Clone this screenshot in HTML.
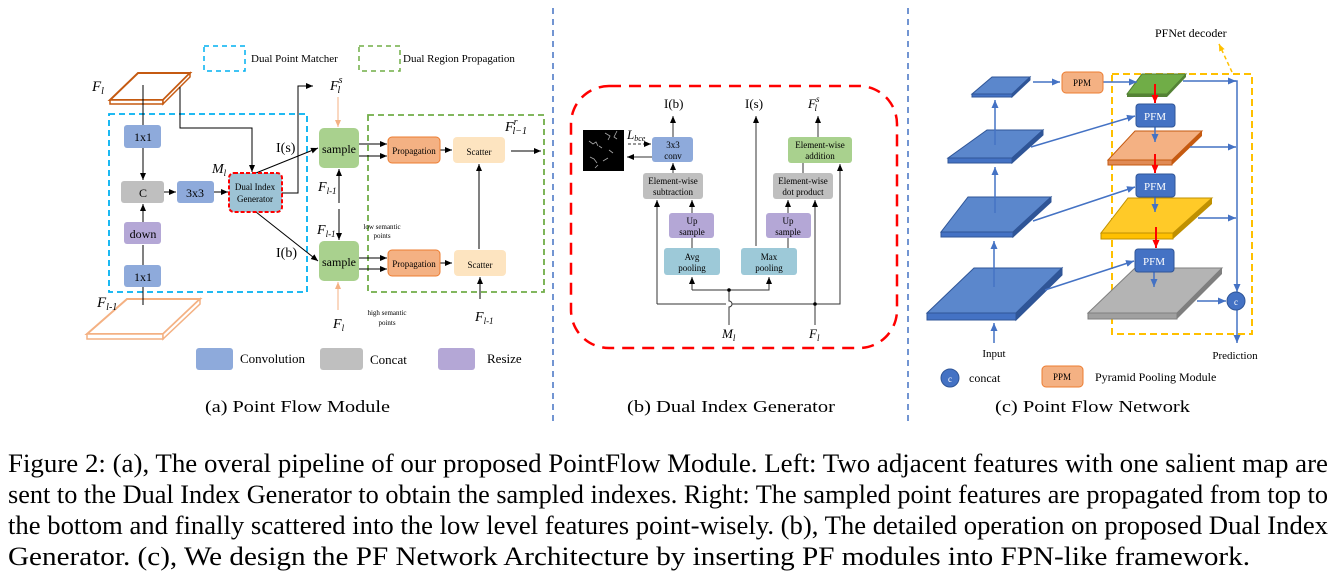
<!DOCTYPE html>
<html><head><meta charset="utf-8"><style>
html,body{margin:0;padding:0;background:#fff;}
svg{display:block;font-family:"Liberation Serif",serif;}
</style></head><body>
<svg width="1334" height="579" viewBox="0 0 1334 579" xmlns="http://www.w3.org/2000/svg">
<defs>
<marker id="a" markerWidth="8" markerHeight="8" refX="7" refY="4" orient="auto" markerUnits="userSpaceOnUse"><path d="M0,1 L7,4 L0,7z" fill="#000"/></marker>
<marker id="ab" markerWidth="9" markerHeight="9" refX="8" refY="4.5" orient="auto" markerUnits="userSpaceOnUse"><path d="M0,1 L8,4.5 L0,8z" fill="#4472c4"/></marker>
<marker id="ar" markerWidth="9" markerHeight="9" refX="8" refY="4.5" orient="auto" markerUnits="userSpaceOnUse"><path d="M0,1 L8,4.5 L0,8z" fill="#ff0000"/></marker>
<marker id="ao" markerWidth="8" markerHeight="8" refX="7" refY="4" orient="auto" markerUnits="userSpaceOnUse"><path d="M0,1 L7,4 L0,7z" fill="#f4b183"/></marker>
<marker id="ay" markerWidth="8" markerHeight="8" refX="7" refY="4" orient="auto" markerUnits="userSpaceOnUse"><path d="M0,1 L7,4 L0,7z" fill="#ffc000"/></marker>
</defs>

<line x1="553" y1="8" x2="553" y2="425" stroke="#4472c4" stroke-width="1.5" stroke-dasharray="6,5"/>
<line x1="908" y1="8" x2="908" y2="425" stroke="#4472c4" stroke-width="1.5" stroke-dasharray="6,5"/>

<!-- ===== Panel (a) ===== -->
<g font-size="11">
<rect x="204" y="46" width="41" height="25" fill="none" stroke="#00b0f0" stroke-width="1.5" stroke-dasharray="5,4"/>
<text x="251" y="62">Dual Point Matcher</text>
<rect x="359" y="46" width="41" height="25" fill="none" stroke="#70ad47" stroke-width="1.5" stroke-dasharray="5,4"/>
<text x="403" y="62">Dual Region Propagation</text>
</g>
<polygon points="138,73 190,73 163,100 110,100" fill="#fff" stroke="#c55a11" stroke-width="2"/>
<polygon points="110,100 163,100 163,104 110,104" fill="#fff" stroke="#c55a11" stroke-width="1.5"/>
<polygon points="163,100 190,73 190,77 163,104" fill="#fff" stroke="#c55a11" stroke-width="1.5"/>
<text x="92" y="91" font-size="15" font-style="italic">F<tspan font-size="10" dy="3">l</tspan></text>
<polygon points="127,299 200,299 163,334 87,334" fill="#fff" stroke="#f4b183" stroke-width="2"/>
<polygon points="87,334 163,334 163,339 87,339" fill="#fff" stroke="#f4b183" stroke-width="1.5"/>
<polygon points="163,334 200,299 200,304 163,339" fill="#fff" stroke="#f4b183" stroke-width="1.5"/>
<text x="97" y="307" font-size="15" font-style="italic">F<tspan font-size="10" dy="3">l-1</tspan></text>

<rect x="109" y="114" width="198" height="178" fill="none" stroke="#00b0f0" stroke-width="1.8" stroke-dasharray="6,4"/>
<rect x="368" y="115" width="176" height="177" fill="none" stroke="#70ad47" stroke-width="1.8" stroke-dasharray="6,4"/>

<g stroke="#000" stroke-width="1" fill="none">
<line x1="143" y1="85" x2="143" y2="125"/>
<line x1="143" y1="148" x2="143" y2="180" marker-end="url(#a)"/>
<line x1="143" y1="222" x2="143" y2="204" marker-end="url(#a)"/>
<line x1="143" y1="265" x2="143" y2="245"/>
<line x1="143" y1="287" x2="143" y2="305"/>
<line x1="164" y1="192" x2="176" y2="192" marker-end="url(#a)"/>
<line x1="214" y1="192" x2="228" y2="192" marker-end="url(#a)"/>
<polyline points="180,87 180,128 252,128 252,172" marker-end="url(#a)"/>
<polyline points="282,193 298,193 298,86 313,86" marker-end="url(#a)"/>
<line x1="256" y1="173" x2="318" y2="148" marker-end="url(#a)"/>
<line x1="256" y1="212" x2="318" y2="261" marker-end="url(#a)"/>
<line x1="339" y1="203" x2="339" y2="169" marker-end="url(#a)"/>
<line x1="339" y1="209" x2="339" y2="240" marker-end="url(#a)"/>
<line x1="359" y1="144" x2="387" y2="144" marker-end="url(#a)"/>
<line x1="359" y1="156" x2="387" y2="156" marker-end="url(#a)"/>
<line x1="440" y1="150" x2="452" y2="150" marker-end="url(#a)"/>
<line x1="359" y1="258" x2="387" y2="258" marker-end="url(#a)"/>
<line x1="359" y1="269" x2="387" y2="269" marker-end="url(#a)"/>
<line x1="440" y1="263" x2="452" y2="263" marker-end="url(#a)"/>
<line x1="479" y1="249" x2="479" y2="164" marker-end="url(#a)"/>
<line x1="480" y1="299" x2="480" y2="277" marker-end="url(#a)"/>
<line x1="511" y1="151" x2="541" y2="151" marker-end="url(#a)"/>
</g>
<line x1="338" y1="97" x2="338" y2="127" stroke="#f4b183" stroke-width="1" marker-end="url(#ao)"/>
<line x1="338" y1="310" x2="338" y2="282" stroke="#f4b183" stroke-width="1" marker-end="url(#ao)"/>

<g font-size="12" text-anchor="middle">
<rect x="124" y="125" width="37" height="23" rx="3" fill="#8eaadb"/><text x="143" y="141">1x1</text>
<rect x="121" y="181" width="43" height="22" rx="3" fill="#bfbfbf"/><text x="143" y="197">C</text>
<rect x="177" y="181" width="37" height="22" rx="3" fill="#8eaadb"/><text x="195" y="197">3x3</text>
<rect x="124" y="222" width="37" height="22" rx="3" fill="#b4a7d6"/><text x="143" y="238">down</text>
<rect x="124" y="265" width="37" height="22" rx="3" fill="#8eaadb"/><text x="143" y="281">1x1</text>
<rect x="229" y="173" width="53" height="39" rx="5" fill="#9dc3d5" stroke="#ff0000" stroke-width="2" stroke-dasharray="4,2"/>
<text x="255" y="190" font-size="9">Dual Index</text><text x="255" y="202" font-size="9">Generator</text>
<rect x="319" y="128" width="40" height="40" rx="5" fill="#a9d18e"/><text x="339" y="153">sample</text>
<rect x="319" y="241" width="40" height="40" rx="5" fill="#a9d18e"/><text x="339" y="266">sample</text>
<rect x="388" y="137" width="52" height="26" rx="4" fill="#f4b183" stroke="#ed7d31"/><text x="414" y="154" font-size="9">Propagation</text>
<rect x="453" y="137" width="52" height="26" rx="4" fill="#fde4c0"/><text x="479" y="155" font-size="9">Scatter</text>
<rect x="388" y="250" width="52" height="26" rx="4" fill="#f4b183" stroke="#ed7d31"/><text x="414" y="267" font-size="9">Propagation</text>
<rect x="454" y="250" width="52" height="26" rx="4" fill="#fde4c0"/><text x="480" y="268" font-size="9">Scatter</text>
<text x="382" y="229" font-size="7">low semantic</text><text x="382" y="238" font-size="7">points</text>
<text x="387" y="315" font-size="7">high semantic</text><text x="387" y="325" font-size="7">points</text>
</g>
<g font-size="14">
<text x="212" y="173" font-style="italic">M<tspan font-size="9" dy="3">l</tspan></text>
<text x="276" y="152">I(s)</text>
<text x="276" y="257">I(b)</text>
<text x="330" y="90" font-style="italic">F<tspan font-size="10" dy="-7">s</tspan><tspan font-size="10" dx="-5" dy="10">l</tspan></text>
<text x="505" y="131" font-style="italic">F<tspan font-size="10" dy="-6">r</tspan><tspan font-size="10" dx="-5" dy="9">l−1</tspan></text>
<text x="318" y="191" font-style="italic">F<tspan font-size="9" dy="3">l-1</tspan></text>
<text x="317" y="234" font-style="italic">F<tspan font-size="9" dy="3">l-1</tspan></text>
<text x="333" y="328" font-style="italic">F<tspan font-size="9" dy="3">l</tspan></text>
<text x="475" y="321" font-style="italic">F<tspan font-size="9" dy="3">l-1</tspan></text>
</g>
<g font-size="13">
<rect x="196" y="348" width="37" height="22" rx="3" fill="#8eaadb"/><text x="240" y="363">Convolution</text>
<rect x="320" y="348" width="43" height="22" rx="3" fill="#bfbfbf"/><text x="370" y="364">Concat</text>
<rect x="438" y="348" width="37" height="22" rx="3" fill="#b4a7d6"/><text x="487" y="363">Resize</text>
</g>
<text x="205" y="412" font-size="17" textLength="185" lengthAdjust="spacingAndGlyphs">(a) Point Flow Module</text>

<!-- ===== Panel (b) ===== -->
<rect x="571" y="86" width="326" height="262" rx="38" fill="none" stroke="#ff0000" stroke-width="2.5" stroke-dasharray="12,8"/>
<rect x="583" y="130" width="41" height="41" fill="#000"/>
<g stroke="#aaa" stroke-width="0.8" fill="none">
<path d="M589,141 l4,3 l3,-2 l2,4 M599,146 l3,2 M605,133 l5,3 l-2,4 M617,131 l-3,6 l3,2 M590,157 l4,2 l3,4 M603,161 l5,-3 M609,150 l4,3 M595,168 l3,-3"/>
</g>
<g stroke="#333" stroke-width="1" fill="none">
<line x1="673" y1="137" x2="673" y2="116" marker-end="url(#a)"/>
<line x1="673" y1="173" x2="673" y2="163" marker-end="url(#a)"/>
<line x1="692" y1="213" x2="692" y2="200" marker-end="url(#a)"/>
<line x1="692" y1="248" x2="692" y2="238"/>
<line x1="788" y1="213" x2="788" y2="200" marker-end="url(#a)"/>
<line x1="788" y1="248" x2="788" y2="238"/>
<line x1="803" y1="173" x2="803" y2="163"/>
<line x1="818" y1="137" x2="818" y2="116" marker-end="url(#a)"/>
<line x1="756" y1="246" x2="756" y2="116" marker-end="url(#a)"/>
<polyline points="692,290 692,277" marker-end="url(#a)"/>
<polyline points="692,290 769,290 769,277" marker-end="url(#a)"/>
<path d="M729,325 L729,307 A3,3 0 0 0 729,301 L729,290"/>
<polyline points="657,304 726,304"/>
<polyline points="732,304 840,304 840,164" marker-end="url(#a)"/>
<line x1="657" y1="304" x2="657" y2="200" marker-end="url(#a)"/>
<line x1="815" y1="325" x2="815" y2="200" marker-end="url(#a)"/>
<line x1="652" y1="157" x2="627" y2="157" marker-end="url(#a)"/>
<line x1="628" y1="144" x2="651" y2="144" stroke-dasharray="3,2" marker-end="url(#a)"/>
</g>
<circle cx="729" cy="290" r="1.8" fill="#000"/>
<circle cx="815" cy="304" r="1.8" fill="#000"/>
<g font-size="9" text-anchor="middle">
<rect x="652" y="137" width="41" height="25" rx="3" fill="#8eaadb"/><text x="673" y="148">3x3</text><text x="673" y="159">conv</text>
<rect x="643" y="173" width="60" height="26" rx="3" fill="#bfbfbf"/><text x="673" y="184">Element-wise</text><text x="673" y="195">subtraction</text>
<rect x="669" y="213" width="45" height="25" rx="3" fill="#b4a7d6"/><text x="692" y="224">Up</text><text x="692" y="235">sample</text>
<rect x="664" y="248" width="56" height="27" rx="3" fill="#9dc9d8"/><text x="692" y="260">Avg</text><text x="692" y="271">pooling</text>
<rect x="741" y="248" width="56" height="27" rx="3" fill="#9dc9d8"/><text x="769" y="260">Max</text><text x="769" y="271">pooling</text>
<rect x="766" y="213" width="45" height="25" rx="3" fill="#b4a7d6"/><text x="788" y="224">Up</text><text x="788" y="235">sample</text>
<rect x="773" y="173" width="60" height="26" rx="3" fill="#bfbfbf"/><text x="803" y="184">Element-wise</text><text x="803" y="195">dot product</text>
<rect x="788" y="137" width="64" height="26" rx="3" fill="#a9d18e"/><text x="820" y="148">Element-wise</text><text x="820" y="159">addition</text>
</g>
<g font-size="13">
<text x="664" y="108">I(b)</text>
<text x="745" y="108">I(s)</text>
<text x="808" y="108" font-style="italic">F<tspan font-size="9" dy="-6">s</tspan><tspan font-size="9" dx="-5" dy="9">l</tspan></text>
<text x="627" y="139" font-style="italic">L<tspan font-size="8" dy="2">bce</tspan></text>
<text x="722" y="338" font-style="italic">M<tspan font-size="9" dy="3">l</tspan></text>
<text x="809" y="338" font-style="italic">F<tspan font-size="9" dy="3">l</tspan></text>
</g>
<text x="627" y="412" font-size="17" textLength="208" lengthAdjust="spacingAndGlyphs">(b) Dual Index Generator</text>

<!-- ===== Panel (c) ===== -->
<text x="1155" y="37" font-size="12">PFNet decoder</text>
<line x1="1232" y1="72" x2="1219" y2="44" stroke="#ffc000" stroke-width="1.5" stroke-dasharray="4,3" marker-end="url(#ay)"/>
<rect x="1112" y="74" width="140" height="260" fill="none" stroke="#ffc000" stroke-width="2" stroke-dasharray="7,4"/>

<g stroke="#2f5597" stroke-width="1">
<polygon points="992,77 1030,77 1012,94 972,94" fill="#5b87cc"/><polygon points="972,94 1012,94 1012,97 972,97" fill="#4472c4"/><polygon points="1012,94 1030,77 1030,80 1012,97" fill="#2f5597"/>
<polygon points="987,130 1043,130 1012,158 948,158" fill="#5b87cc"/><polygon points="948,158 1012,158 1012,163 948,163" fill="#4472c4"/><polygon points="1012,158 1043,130 1043,135 1012,163" fill="#2f5597"/>
<polygon points="968,197 1051,197 1013,232 941,232" fill="#5b87cc"/><polygon points="941,232 1013,232 1013,237 941,237" fill="#4472c4"/><polygon points="1013,232 1051,197 1051,202 1013,237" fill="#2f5597"/>
<polygon points="974,268 1062,268 1016,313 927,313" fill="#5b87cc"/><polygon points="927,313 1016,313 1016,320 927,320" fill="#4472c4"/><polygon points="1016,313 1062,268 1062,275 1016,320" fill="#2f5597"/>
</g>
<polygon points="1142,74 1186,74 1167,94 1127,94" fill="#70ad47" stroke="#507e32"/><polygon points="1127,94 1167,94 1167,97 1127,97" fill="#548235"/><polygon points="1167,94 1186,74 1186,77 1167,97" fill="#548235"/>
<polygon points="1135,131 1202,131 1172,160 1108,160" fill="#f4b183" stroke="#c55a11"/><polygon points="1108,160 1172,160 1172,165 1108,165" fill="#e08a55" stroke="#c55a11"/><polygon points="1172,160 1202,131 1202,136 1172,165" fill="#c55a11"/>
<polygon points="1128,198 1212,198 1173,233 1101,233" fill="#ffca28" stroke="#bf9000"/><polygon points="1101,233 1173,233 1173,239 1101,239" fill="#ffc000" stroke="#bf9000"/><polygon points="1173,233 1212,198 1212,204 1173,239" fill="#bf9000"/>
<polygon points="1135,268 1222,268 1177,313 1088,313" fill="#b4b4b4" stroke="#7f7f7f"/><polygon points="1088,313 1177,313 1177,319 1088,319" fill="#a0a0a0" stroke="#7f7f7f"/><polygon points="1177,313 1222,268 1222,274 1177,319" fill="#7f7f7f"/>

<g stroke="#4472c4" stroke-width="1.5" fill="none">
<line x1="995" y1="145" x2="995" y2="100" marker-end="url(#ab)"/>
<line x1="995" y1="213" x2="995" y2="167" marker-end="url(#ab)"/>
<line x1="994" y1="287" x2="994" y2="241" marker-end="url(#ab)"/>
<line x1="994" y1="343" x2="994" y2="323" marker-end="url(#ab)"/>
<line x1="1033" y1="82" x2="1060" y2="82" marker-end="url(#ab)"/>
<line x1="1103" y1="82" x2="1137" y2="82" marker-end="url(#ab)"/>
<line x1="1031" y1="147" x2="1135" y2="116" marker-end="url(#ab)"/>
<line x1="1033" y1="221" x2="1135" y2="187" marker-end="url(#ab)"/>
<line x1="1045" y1="290" x2="1134" y2="261" marker-end="url(#ab)"/>
<polyline points="1183,81 1237,81 1237,292" marker-end="url(#ab)"/>
<line x1="1228" y1="81" x2="1236" y2="81" marker-end="url(#ab)"/>
<line x1="1190" y1="147" x2="1236" y2="147" marker-end="url(#ab)"/>
<line x1="1198" y1="218" x2="1236" y2="218" marker-end="url(#ab)"/>
<line x1="1197" y1="301" x2="1226" y2="301" marker-end="url(#ab)"/>
<line x1="1237" y1="310" x2="1237" y2="343" marker-end="url(#ab)"/>
<line x1="1155" y1="127" x2="1155" y2="142" marker-end="url(#ab)"/>
<line x1="1155" y1="197" x2="1155" y2="212" marker-end="url(#ab)"/>
<line x1="1154" y1="272" x2="1154" y2="287" marker-end="url(#ab)"/>
</g>
<g stroke="#ff0000" stroke-width="2">
<line x1="1155" y1="84" x2="1155" y2="103" marker-end="url(#ar)"/>
<line x1="1155" y1="154" x2="1155" y2="173" marker-end="url(#ar)"/>
<line x1="1156" y1="227" x2="1156" y2="248" marker-end="url(#ar)"/>
</g>
<g font-size="11" fill="#fff" text-anchor="middle">
<rect x="1136" y="104" width="39" height="23" rx="3" fill="#4472c4" stroke="#2f5597"/><text x="1155" y="120">PFM</text>
<rect x="1136" y="174" width="39" height="23" rx="3" fill="#4472c4" stroke="#2f5597"/><text x="1155" y="190">PFM</text>
<rect x="1135" y="249" width="39" height="23" rx="3" fill="#4472c4" stroke="#2f5597"/><text x="1154" y="265">PFM</text>
<circle cx="1236" cy="301" r="9" fill="#4472c4" stroke="#2f5597"/><text x="1236" y="305" font-size="9">c</text>
<circle cx="950" cy="378" r="9" fill="#4472c4" stroke="#2f5597"/><text x="950" y="382" font-size="9">c</text>
</g>
<g font-size="9" text-anchor="middle">
<rect x="1062" y="72" width="41" height="21" rx="4" fill="#f4b183" stroke="#ed7d31"/><text x="1082" y="86">PPM</text>
<rect x="1042" y="366" width="41" height="21" rx="4" fill="#f4b183" stroke="#ed7d31"/><text x="1062" y="380">PPM</text>
</g>
<g font-size="11">
<text x="994" y="357" text-anchor="middle">Input</text>
<text x="1235" y="359" text-anchor="middle">Prediction</text>
<text x="969" y="382" font-size="12">concat</text>
<text x="1095" y="381" font-size="12">Pyramid Pooling Module</text>
</g>
<text x="995" y="412" font-size="17" textLength="195" lengthAdjust="spacingAndGlyphs">(c) Point Flow Network</text>

<!-- caption -->
<g font-size="26">
<text x="8" y="472" textLength="1320" lengthAdjust="spacingAndGlyphs">Figure 2: (a), The overal pipeline of our proposed PointFlow Module. Left: Two adjacent features with one salient map are</text>
<text x="8" y="503" textLength="1320" lengthAdjust="spacingAndGlyphs">sent to the Dual Index Generator to obtain the sampled indexes. Right: The sampled point features are propagated from top to</text>
<text x="8" y="534" textLength="1320" lengthAdjust="spacingAndGlyphs">the bottom and finally scattered into the low level features point-wisely. (b), The detailed operation on proposed Dual Index</text>
<text x="8" y="565" textLength="1242" lengthAdjust="spacingAndGlyphs">Generator. (c), We design the PF Network Architecture by inserting PF modules into FPN-like framework.</text>
</g>
</svg>
</body></html>
